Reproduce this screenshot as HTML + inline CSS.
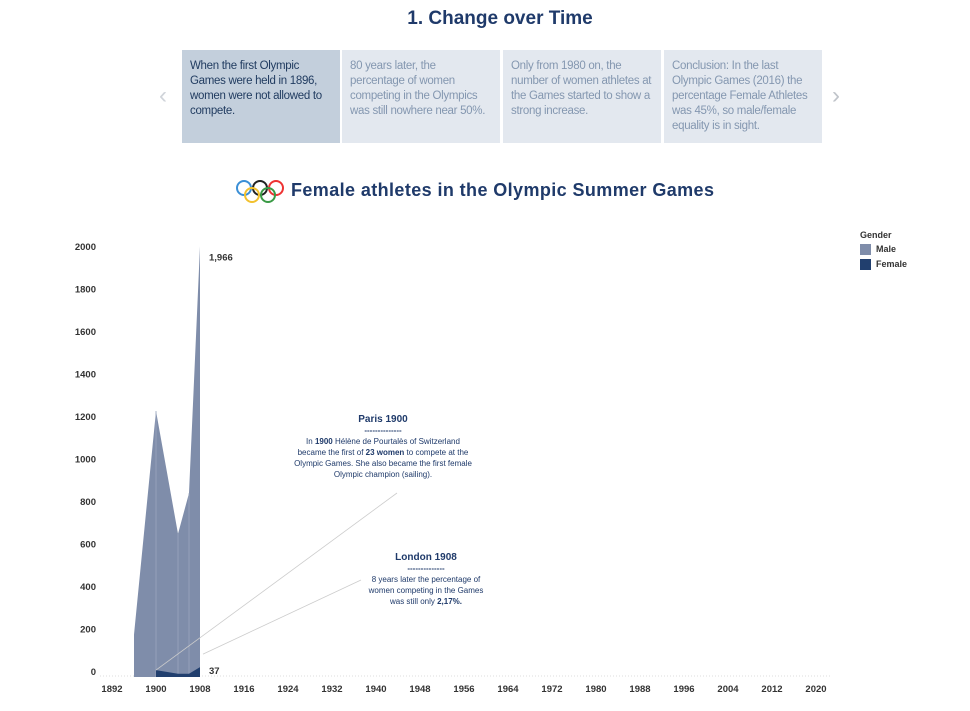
<!DOCTYPE html>
<html><head><meta charset="utf-8"><style>
body{margin:0;width:970px;height:711px;background:#fff;font-family:"Liberation Sans",sans-serif;position:relative;overflow:hidden}
.abs{position:absolute}
.card{position:absolute;top:50px;height:93px;width:158px;background:#e3e8ef;color:#8497b0;font-size:11.5px;letter-spacing:-0.3px;line-height:15px;padding:9px 7px 9px 8px;box-sizing:border-box}
.card.sel{background:#c3cfdc;color:#1f3a5f}
.ann{position:absolute;color:#1f3a6a;font-size:8px;line-height:11px;text-align:center}
</style></head><body>
<div class="abs" style="left:0;width:1000px;top:8px;text-align:center;font-size:19px;font-weight:bold;color:#1f3a6a">1. Change over Time</div>
<div class="abs" style="left:159px;top:82px;color:#d0d4da;font-size:24px">&#x2039;</div>
<div class="abs" style="left:832px;top:82px;color:#c0c4ca;font-size:24px">&#x203A;</div>
<div class="card sel" style="left:182px">When the first Olympic Games were held in 1896, women were not allowed to compete.</div>
<div class="card" style="left:342px">80 years later, the percentage of women competing in the Olympics was still nowhere near 50%.</div>
<div class="card" style="left:503px">Only from 1980 on, the number of women athletes at the Games started to show a strong increase.</div>
<div class="card" style="left:664px">Conclusion: In the last Olympic Games (2016) the percentage Female Athletes was 45%, so male/female equality is in sight.</div>
<svg class="abs" style="left:235px;top:180px" width="52" height="24">
<g fill="none" stroke-width="2"><circle cx="9" cy="8" r="7" stroke="#3b8fd6"/><circle cx="25" cy="8" r="7" stroke="#222"/><circle cx="41" cy="8" r="7" stroke="#e33"/><circle cx="17" cy="15" r="7" stroke="#f2c12e"/><circle cx="33" cy="15" r="7" stroke="#3a9a45"/></g></svg>
<div class="abs" style="left:291px;top:180px;font-size:18px;font-weight:bold;color:#1f3a6a;letter-spacing:0.4px">Female athletes in the Olympic Summer Games</div>
<div class="abs" style="left:860px;top:230px;font-size:9px;font-weight:bold;color:#333">
<div>Gender</div>
<div style="margin-top:4px"><span style="display:inline-block;width:11px;height:11px;background:#7f8daa;vertical-align:middle;margin-right:5px"></span>Male</div>
<div style="margin-top:4px"><span style="display:inline-block;width:11px;height:11px;background:#213f6e;vertical-align:middle;margin-right:5px"></span>Female</div>
</div>
<svg id="chart" class="abs" style="left:0;top:0" width="970" height="711"></svg>
<div class="ann" style="left:294px;top:414px;width:178px"><b style="font-size:10px">Paris 1900</b><br><b>--------------</b><br>In <b>1900</b> Hélène de Pourtalès of Switzerland became the first of <b>23 women</b> to compete at the Olympic Games. She also became the first female Olympic champion (sailing).</div>
<div class="ann" style="left:366px;top:552px;width:120px"><b style="font-size:10px">London 1908</b><br><b>--------------</b><br>8 years later the percentage of women competing in the Games was still only <b>2,17%.</b></div>
<script>
const years=[1896,1900,1904,1906,1908];
const male=[176,1205,644,835,1966];
const female=[0,23,6,6,37];
const yTicks=[0,200,400,600,800,1000,1200,1400,1600,1800,2000];
const xTicks=[1892,1900,1908,1916,1924,1932,1940,1948,1956,1964,1972,1980,1988,1996,2004,2012,2020];
const svg=document.getElementById('chart');const NS='http://www.w3.org/2000/svg';
const X=y=>156+(y-1900)*5.5, Y=v=>672-v*425/2000;
function mk(t,a){const e=document.createElementNS(NS,t);for(const k in a)e.setAttribute(k,a[k]);svg.appendChild(e);return e;}
const base=mk('line',{x1:100,x2:830,y1:Y(0)+4,y2:Y(0)+4,stroke:'#ddd','stroke-dasharray':'1,2'});

yTicks.forEach(v=>{const t=mk('text',{x:96,y:Y(v)+3,'text-anchor':'end','font-size':9.5,'font-weight':'bold',fill:'#333'});t.textContent=v;
});
xTicks.forEach(v=>{const t=mk('text',{x:X(v),y:692,'text-anchor':'middle','font-size':9.5,'font-weight':'bold',fill:'#333'});t.textContent=v;
});
const maleTop=years.map((y,i)=>X(y)+','+Y(male[i]+female[i])).join(' ');
const ma=mk('polygon',{points:X(years[0])+','+(Y(0)+5)+' '+maleTop+' '+X(years[years.length-1])+','+(Y(0)+5),fill:'#7f8daa'});

years.forEach((y,i)=>{if(i===0||i===years.length-1)return;const l=mk('line',{x1:X(y),x2:X(y),y1:Y(0)+5,y2:Y(male[i]+female[i]),stroke:'#9aa6bd','stroke-width':0.8});
});
const fi=years.map((y,i)=>i).filter(i=>years[i]>=1900);
const femTop=fi.map(i=>X(years[i])+','+(Y(female[i])+3)).join(' ');
const fa=mk('polygon',{points:X(1900)+','+(Y(0)+5)+' '+femTop+' '+X(years[years.length-1])+','+(Y(0)+5),fill:'#213f6e'});

const l1=mk('text',{x:X(1908)+9,y:Y(male[4]+female[4])+14,'font-size':9.5,'font-weight':'bold',fill:'#333'});l1.textContent='1,966';

const l2=mk('text',{x:X(1908)+9,y:Y(0)+2,'font-size':9.5,'font-weight':'bold',fill:'#333'});l2.textContent='37';

const c1=mk('line',{x1:X(1900),y1:Y(female[1])+3,x2:397,y2:493,stroke:'#ccc','stroke-width':0.8});

const c2=mk('line',{x1:X(1908)+3,y1:Y(female[4])-10,x2:361,y2:580,stroke:'#ccc','stroke-width':0.8});

</script>
</body></html>
